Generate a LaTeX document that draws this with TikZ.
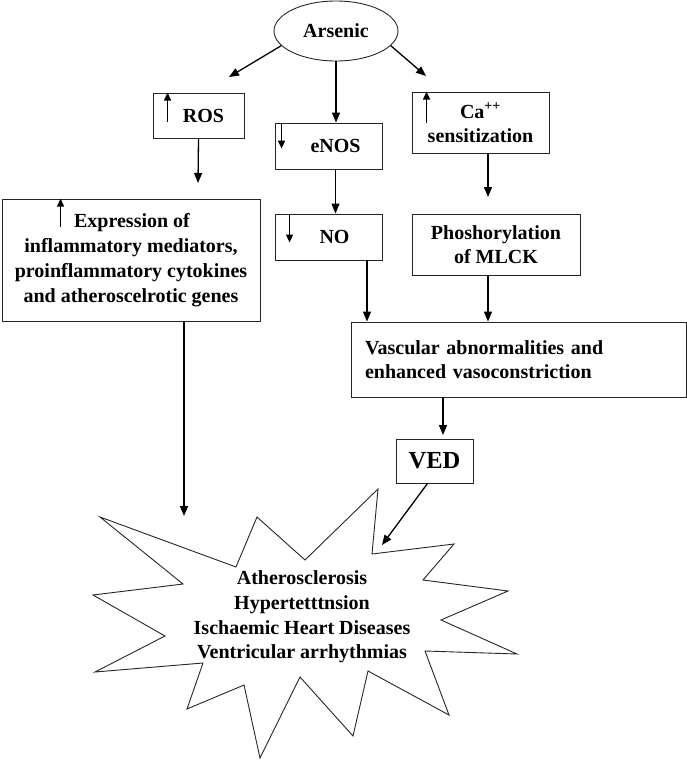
\documentclass[tikz,border=0pt]{standalone}
\usepackage{fontspec}
\setmainfont{Liberation Serif}
\usetikzlibrary{arrows.meta,shapes.geometric}
\tikzset{
  box/.style={draw=black!85, line width=0.9pt, rectangle, inner sep=0pt, align=center,
              font=\bfseries\fontsize{20}{24}\selectfont},
  arr/.style={line width=1.3pt, -{Triangle[length=10pt,width=8pt]}},
  mini/.style={line width=1.3pt, -{Triangle[length=8pt,width=7pt]}},
  txt/.style={font=\bfseries\fontsize{20}{24.5}\selectfont, align=center, inner sep=0pt}
}
\begin{document}
\begin{tikzpicture}[x=1pt,y=-1pt]
\useasboundingbox (0,0) rectangle (687,761);

% nodes
\node[box, ellipse, minimum width=124, minimum height=60] (ars) at (336,31) {Arsenic};
\node[box, minimum width=91, minimum height=45] (ros) at (198.5,115.5) {\hspace*{10pt}ROS};
\node[box, minimum width=107, minimum height=46] (enos) at (328.5,146) {\hspace*{14pt}eNOS};
\node[box, minimum width=107, minimum height=46] (no) at (328.5,237) {\hspace*{12pt}NO};
\node[box, minimum width=137, minimum height=61] (ca) at (480.5,122.5) {Ca\textsuperscript{++}\\sensitization};
\node[box, minimum width=168, minimum height=61] (phos) at (496,244.5) {Phoshorylation\\of MLCK};
\node[box, minimum width=258, minimum height=122, font=\bfseries\fontsize{20}{25}\selectfont] (expr) at (131,260)
  {\hspace*{2pt}Expression of\\inflammatory mediators,\\proinflammatory cytokines\\and atheroscelrotic genes};
\node[box, minimum width=335, minimum height=75, text width=307, align=left] (vasc) at (518.5,359.5)
  {Vascular abnormalities and\\enhanced vasoconstriction};
\node[box, minimum width=77, minimum height=44, font=\bfseries\fontsize{24.5}{28}\selectfont] (ved) at (434.5,461) {VED};

% star
\draw[line width=0.9pt, draw=black!85, line join=miter]
  (100,517) -- (236,567) -- (257,517) -- (305,560) -- (378,489) -- (372,554) --
  (454,544) -- (423,580) -- (508,591) -- (441,620) -- (517,654) -- (425,651) --
  (449,715) -- (368,671) -- (353,736) -- (300,677) -- (260,758) -- (244,685) --
  (187,709) -- (203,663) -- (95,672) -- (165,636) -- (93,595) -- (183,584) -- cycle;
\node[txt, font=\bfseries\fontsize{20}{24.8}\selectfont] (star) at (302,617) {Atherosclerosis\\Hypertetttnsion\\Ischaemic Heart Diseases\\Ventricular arrhythmias};

% free ends
\coordinate (rosend) at (229,77);
\coordinate (caend) at (426,76);
\coordinate (exprend) at (198,183);
\coordinate (phosend) at (488,197);
\coordinate (vedend) at (443,435);
\coordinate (starend1) at (184,516);
\coordinate (starend2) at (382,545);

% connectors
\draw[arr] (ars.195) -- (rosend);
\draw[arr] (ars.345) -- (caend);
\draw[arr] (ars.south) -- (ars.south |- enos.north);
\draw[arr] (ros.south) -- (exprend);
\draw[arr] ([xshift=7]enos.south) -- ([xshift=7]no.north);
\draw[arr] ([xshift=7.5]ca.south) -- (phosend);
\draw[arr] ([xshift=38.5]no.south) -- ([xshift=38.5]no.south |- vasc.north);
\draw[arr] ([xshift=-8]phos.south) -- ([xshift=-8]phos.south |- vasc.north);
\draw[arr] (vasc.south -| vedend) -- (vedend);
\draw[arr] (expr.south -| starend1) -- (starend1);
\draw[arr] ([xshift=-7]ved.south) -- (starend2);

% small arrows inside boxes
\draw[mini] ([shift={(15,29)}]ros.north west) -- ([xshift=15]ros.north west);
\draw[mini] ([xshift=7]enos.north west) -- ([shift={(7,26)}]enos.north west);
\draw[mini] ([xshift=15]no.north west) -- ([shift={(15,29)}]no.north west);
\draw[mini] ([shift={(15,31)}]ca.north west) -- ([xshift=15]ca.north west);
\draw[mini] ([shift={(59,28)}]expr.north west) -- ([xshift=59]expr.north west);
\end{tikzpicture}
\end{document}
